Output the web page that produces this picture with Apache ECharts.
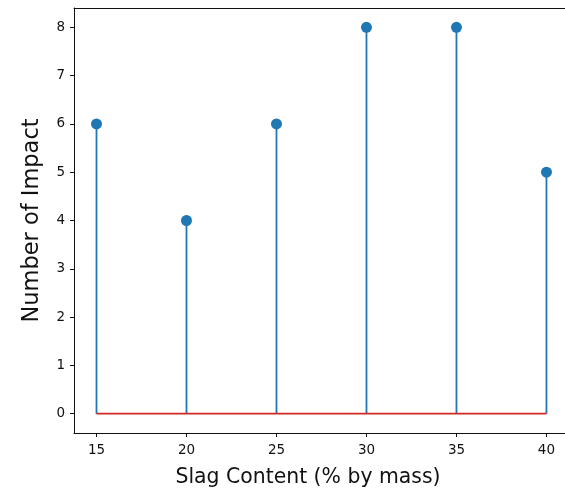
<!DOCTYPE html>
<html><head><meta charset="utf-8">
<script src="https://cdn.jsdelivr.net/npm/echarts@6/dist/echarts.min.js"></script>
<style>html,body{margin:0;padding:0;background:#fff}#c{width:565px;height:493px}</style>
</head><body><div id="c"></div>
<script>
const slag = [15, 20, 25, 30, 35, 40];
const impacts = [6, 4, 6, 8, 8, 5];
const xTicks = [15, 20, 25, 30, 35, 40];
const yTicks = [0, 1, 2, 3, 4, 5, 6, 7, 8];

const pts = slag.map((x, i) => [x, impacts[i]]);
const font = 'DejaVu Sans';
const chart = echarts.init(document.getElementById('c'), null, {renderer: 'canvas'});
chart.setOption({
  animation: false,
  backgroundColor: '#fff',
  grid: {left: 74, top: 8, width: 491, height: 425, containLabel: false},
  xAxis: [{
    type: 'value', min: 13.75, max: 41.03,
    name: 'Slag Content (% by mass)', nameLocation: 'middle', nameGap: 35,
    nameTextStyle: {fontFamily: font, fontSize: 20.4, color: '#111', padding: [0, 23, 0, 0]},
    axisLine: {show: true, onZero: false, lineStyle: {color: '#111', width: 1}},
    axisTick: {show: true, length: 4, lineStyle: {color: '#111'}, customValues: xTicks},
    axisLabel: {fontFamily: font, fontSize: 13.5, color: '#111', margin: 10, customValues: xTicks},
    splitLine: {show: false}
  }, {
    type: 'value', position: 'top', min: 13.75, max: 41.03,
    axisLine: {show: true, onZero: false, lineStyle: {color: '#111', width: 1}},
    axisTick: {show: false}, axisLabel: {show: false}, splitLine: {show: false}
  }],
  yAxis: {
    type: 'value', min: -0.4, max: 8.4,
    name: 'Number of Impact', nameLocation: 'middle', nameGap: 30,
    nameTextStyle: {fontFamily: font, fontSize: 22.5, color: '#111'},
    axisLine: {show: true, onZero: false, lineStyle: {color: '#111', width: 1}},
    axisTick: {show: true, length: 4, lineStyle: {color: '#111'}, customValues: yTicks},
    axisLabel: {fontFamily: font, fontSize: 13.5, color: '#111', margin: 9, customValues: yTicks},
    splitLine: {show: false}
  },
  series: [
    {
      type: 'custom', z: 2,
      data: pts,
      renderItem: function (params, api) {
        const top = api.coord([api.value(0), api.value(1)]);
        const bot = api.coord([api.value(0), 0]);
        return {type: 'line', shape: {x1: top[0], y1: top[1], x2: bot[0], y2: bot[1]},
          style: {stroke: '#1f77b4', lineWidth: 1.8}};
      }
    },
    {
      type: 'line', z: 3,
      data: [[slag[0], 0], [slag[slag.length - 1], 0]],
      symbol: 'none',
      lineStyle: {color: '#d62728', width: 1.8}
    },
    {
      type: 'scatter', z: 4,
      data: pts, symbol: 'circle', symbolSize: 11,
      itemStyle: {color: '#1f77b4', opacity: 1}
    }
  ]
});
</script></body></html>
